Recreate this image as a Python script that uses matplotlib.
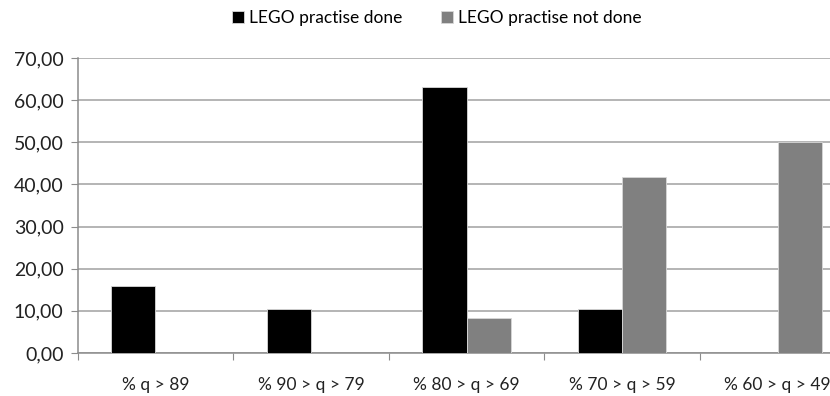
import numpy as np
import matplotlib
matplotlib.use("Agg")
import matplotlib.pyplot as plt
from matplotlib.ticker import FuncFormatter

plt.rcParams['font.family'] = ['Lato', 'DejaVu Sans']

# datos
categorias = ['% q > 89', '% 90 > q > 79', '% 80 > q > 69', '% 70 > q > 59', '% 60 > q > 49']
series = ['LEGO practise done', 'LEGO practise not done']
hecho = [15.79, 10.53, 63.16, 10.53, 0.0]
no_hecho = [0.0, 0.0, 8.33, 41.67, 50.00]
colores = ['#000000', '#808080']

fig = plt.figure(figsize=(8.3, 3.96), dpi=100)
# el area del grafico sigue mas alla del borde derecho
ax = fig.add_axes([77.5 / 830, 43 / 396, 778 / 830, 295 / 396])

x = np.arange(len(categorias))
ancho = 0.283
for i, (vals, nombre) in enumerate(zip([hecho, no_hecho], series)):
    ax.bar(x + (i - 0.5) * ancho, vals, ancho, color=colores[i], label=nombre,
           edgecolor='#d8d8d8', linewidth=0.6, zorder=3)

ax.set_xlim(-0.5, len(categorias) - 0.5)
ax.set_ylim(0, 70)
ax.set_yticks(np.arange(0, 71, 10))
ax.yaxis.set_major_formatter(FuncFormatter(lambda v, p: f'{v:.2f}'.replace('.', ',')))
ax.yaxis.grid(True, color='#a0a0a0', linewidth=1.1, zorder=0)

ax.set_xticks(np.arange(len(categorias) + 1) - 0.5)
ax.set_xticklabels([])
ax.set_xticks(x, minor=True)
ax.set_xticklabels(categorias, minor=True)
ax.tick_params(axis='x', which='minor', length=0, pad=17, labelsize=12.5, colors='#222222')
ax.tick_params(axis='x', which='major', length=5, color='#8c8c8c')
ax.tick_params(axis='y', length=5, color='#8c8c8c', labelsize=14, labelcolor='#222222', pad=5)

for s in ['top', 'right']:
    ax.spines[s].set_visible(False)
for s in ['left', 'bottom']:
    ax.spines[s].set_color('#8c8c8c')
    ax.spines[s].set_linewidth(1.1)

fig.legend(loc='center', bbox_to_anchor=(437 / 830, 1 - 18 / 396), ncol=2, frameon=False,
           fontsize=12.5, handlelength=0.7, handleheight=0.7, handletextpad=0.3,
           columnspacing=2.2)

fig.savefig('out.png', dpi=100)
